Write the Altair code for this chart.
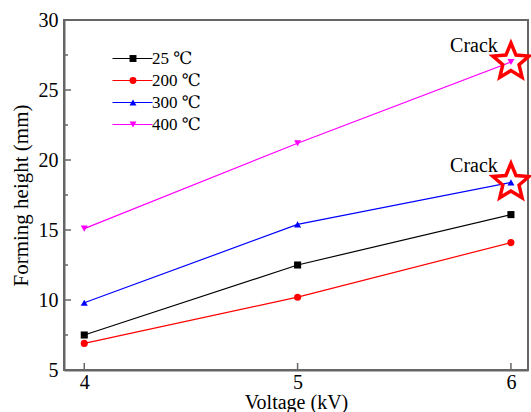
import altair as alt
import pandas as pd

# ---- data ----
voltage = [4, 5, 6]
series = ["\u200925 \u2103", "200 \u2103", "300 \u2103", "400 \u2103"]
temp_keys = ["t25", "t200", "t300", "t400"]
h25 = [7.5, 12.5, 16.1]
h200 = [6.9, 10.2, 14.1]
h300 = [9.8, 15.4, 18.4]
h400 = [15.1, 21.2, 27.0]
crack_v = [6, 6]
crack_h = [27.0, 18.4]
crack_text = ["Crack", "Crack"]
y_major = [5, 10, 15, 20, 25, 30]
y_minor = [7.5, 12.5, 17.5, 22.5, 27.5]
x_major = [4, 5, 6]

colors = ["#000000", "#FF0000", "#0000FF", "#FF00FF"]
shapes = ["square", "circle", "triangle-up", "triangle-down"]
star_path = ("M0,-1L0.2645,-0.364L0.9511,-0.309L0.428,0.139L0.5878,0.809"
             "L0,0.45L-0.5878,0.809L-0.428,0.139L-0.9511,-0.309L-0.2645,-0.364Z")

rows = []
for s, k, vals in zip(series, temp_keys, [h25, h200, h300, h400]):
    for v, h in zip(voltage, vals):
        rows.append({"voltage": v, "height": h, "series": s, "key": k})
df = pd.DataFrame(rows)
crack_df = pd.DataFrame({"voltage": crack_v, "height": crack_h, "label": crack_text})
ymaj_df = pd.DataFrame({"y": y_major})
ymin_df = pd.DataFrame({"y": y_minor})
xmaj_df = pd.DataFrame({"x": x_major})

FONT = "Liberation Serif, Times New Roman, DejaVu Serif, serif"
GRAY = "#666666"
W, H = 464, 350
LX, LY = 60, 30

xscale = alt.Scale(domain=[3.905, 6.08], nice=False, zero=False)
yscale = alt.Scale(domain=[5, 30], nice=False, zero=False)

xaxis = alt.Axis(values=x_major, format="d", tickSize=0, labelFont=FONT, labelFontSize=20,
                 labelColor="black", labelPadding=2, domainColor=GRAY, domainWidth=2,
                 grid=False, title="Voltage (kV)", titleFont=FONT, titleFontSize=20,
                 titleFontWeight="normal", titleColor="black", titlePadding=16,
                 titleBaseline="alphabetic", labelFlush=False)
yaxis = alt.Axis(values=y_major, format="d", tickSize=0, labelFont=FONT, labelFontSize=20,
                 labelColor="black", labelPadding=6, domainColor=GRAY, domainWidth=2,
                 grid=False, title="Forming height (mm)", titleFont=FONT,
                 titleFontSize=21, titleFontWeight="normal", titleColor="black",
                 titlePadding=7, labelFlush=False)

base = alt.Chart(df)

lines = base.mark_line(strokeWidth=1.2).encode(
    x=alt.X("voltage:Q", scale=xscale, axis=xaxis),
    y=alt.Y("height:Q", scale=yscale, axis=yaxis),
    color=alt.Color("key:N", scale=alt.Scale(domain=temp_keys, range=colors),
                    legend=alt.Legend(title=None, orient="none", legendX=LX, legendY=LY,
                                      symbolType="M-5,0H5", symbolSize=64,
                                      symbolStrokeWidth=1.2, labelFont=FONT,
                                      labelFontSize=17, labelOpacity=0, labelExpr="' '",
                                      labelOffset=10, rowPadding=4, padding=0)),
)

points = base.mark_point(filled=True, size=50, opacity=1).encode(
    x="voltage:Q", y="height:Q",
    fill=alt.Fill("series:N", scale=alt.Scale(domain=series, range=colors),
                  legend=alt.Legend(title=None, orient="none", legendX=LX + 0.5, legendY=LY,
                                    symbolSize=48, labelFont=FONT, labelFontSize=17,
                                    labelColor="black", labelOffset=10.5, rowPadding=4,
                                    padding=0)),
    shape=alt.Shape("series:N", scale=alt.Scale(domain=series, range=shapes)),
)

stars = alt.Chart(crack_df).mark_point(shape=star_path, size=1444, filled=False,
                                        color="#FF0000", strokeWidth=3.5, opacity=1).encode(
    x="voltage:Q", y="height:Q")
crack_labels = alt.Chart(crack_df).mark_text(font=FONT, fontSize=20, color="black",
                                              align="center", baseline="alphabetic",
                                              dx=-37, dy=-10).encode(
    x="voltage:Q", y="height:Q", text="label:N")

ytick_major = alt.Chart(ymaj_df).mark_rule(color=GRAY, strokeWidth=1.5).encode(
    y="y:Q", x=alt.value(0), x2=alt.value(7))
ytick_minor = alt.Chart(ymin_df).mark_rule(color=GRAY, strokeWidth=1.5).encode(
    y="y:Q", x=alt.value(0), x2=alt.value(4))
xtick_major = alt.Chart(xmaj_df).mark_rule(color=GRAY, strokeWidth=1.5).encode(
    x="x:Q", y=alt.value(H), y2=alt.value(H - 7))

chart = alt.layer(
    ytick_major, ytick_minor, xtick_major, lines, points, stars, crack_labels,
).properties(
    width=W, height=H,
    autosize=alt.AutoSizeParams(type="none"),
    padding={"left": 64, "top": 20, "right": 3, "bottom": 42},
    background="white",
).configure_view(stroke=GRAY, strokeWidth=2)

chart.save("out.html", embed_options={"renderer": "svg", "actions": False})
